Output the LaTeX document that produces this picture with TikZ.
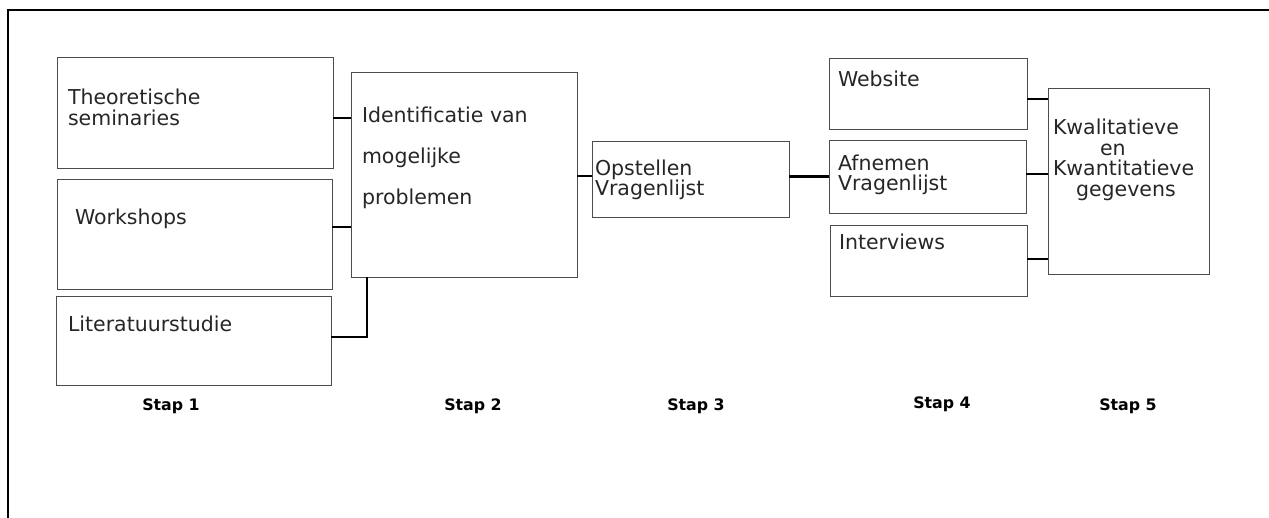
\documentclass[tikz,border=0pt]{standalone}
\usepackage{fontspec}
\setmainfont{DejaVu Sans}
\begin{document}
\begin{tikzpicture}[x=1pt,y=-1pt,
  box/.style={draw=black!70, line width=0.9pt, rectangle, inner sep=0pt, outer sep=0pt, anchor=north west},
  txt/.style={anchor=base west, inner sep=0pt, outer sep=0pt, align=left, font=\fontsize{20.5}{21}\selectfont, text=black!85},
  conn/.style={line width=2pt},
  thickconn/.style={line width=3pt},
  stap/.style={anchor=base, inner sep=0pt, font=\fontsize{15.8}{18}\selectfont\bfseries}]
\useasboundingbox (0,0) rectangle (1269,518);
% outer frame
\draw[line width=2pt] (8,518) coordinate (fl) -- (8,10) coordinate (ftl) -- (1269,10) coordinate (fr);
% boxes
\node[box, minimum width=276pt, minimum height=111pt] (theo) at (57,57) {};
\node[box, minimum width=275pt, minimum height=110pt] (work) at (57,179) {};
\node[box, minimum width=275pt, minimum height=89pt] (lit) at (56,296) {};
\node[box, minimum width=226pt, minimum height=205pt] (ident) at (351,72) {};
\node[box, minimum width=197pt, minimum height=76pt] (opst) at (592,141) {};
\node[box, minimum width=198pt, minimum height=71pt] (web) at (829,58) {};
\node[box, minimum width=197pt, minimum height=73pt] (afn) at (829,140) {};
\node[box, minimum width=197pt, minimum height=71pt] (intv) at (830,225) {};
\node[box, minimum width=161pt, minimum height=186pt] (kwal) at (1048,88) {};
% texts (multi-line nodes are anchored at the baseline of their last line)
\node[txt] (ttheo) at (68,126) {Theoretische\\seminaries};
\node[txt] (twork) at (75,225) {Workshops};
\node[txt] (tlit) at (68,332) {Literatuurstudie};
\node[txt, font=\fontsize{20.5}{41}\selectfont] (tident) at (362,205) {Identificatie van\\mogelijke\\problemen};
\node[txt, font=\fontsize{20.5}{20}\selectfont] (topst) at (595,196) {Opstellen\\Vragenlijst};
\node[txt] (tweb) at (838,87) {Website};
\node[txt, font=\fontsize{20.5}{20}\selectfont] (tafn) at (838,191) {Afnemen\\Vragenlijst};
\node[txt] (tintv) at (839,250) {Interviews};
\node[txt, font=\fontsize{20.5}{20.5}\selectfont] (tkwal) at (1053,196.5) {Kwalitatieve\\\hspace*{47pt}en\\Kwantitatieve\\\hspace*{23pt}gegevens};
% connectors
\draw[conn] (theo.east) ++(0,5.5) coordinate (c1) -- (c1 -| ident.west);
\draw[conn] (work.east) ++(0,-7) coordinate (c2) -- (c2 -| ident.west);
\draw[conn] (lit.east) ++(0,-3.5) coordinate (c3) -| ([xshift=16pt]ident.south west);
\draw[conn] (opst.west) ++(0,-3) coordinate (c4) -- (c4 -| ident.east);
\draw[thickconn] (opst.east) ++(0,-2) coordinate (c5) -- (c5 -| afn.west);
\draw[conn] (web.east) ++(0,5.5) coordinate (c6) -- (c6 -| kwal.west);
\draw[conn] (afn.east) ++(0,-2.5) coordinate (c7) -- (c7 -| kwal.west);
\draw[conn] (intv.east) ++(0,-1.5) coordinate (c8) -- (c8 -| kwal.west);
% step labels
\node[stap] (s1) at (171,410) {Stap 1};
\node[stap] (s2) at (473,410) {Stap 2};
\node[stap] (s3) at (696,410) {Stap 3};
\node[stap] (s4) at (942,409) {Stap 4};
\node[stap] (s5) at (1128,410) {Stap 5};
\end{tikzpicture}
\end{document}
